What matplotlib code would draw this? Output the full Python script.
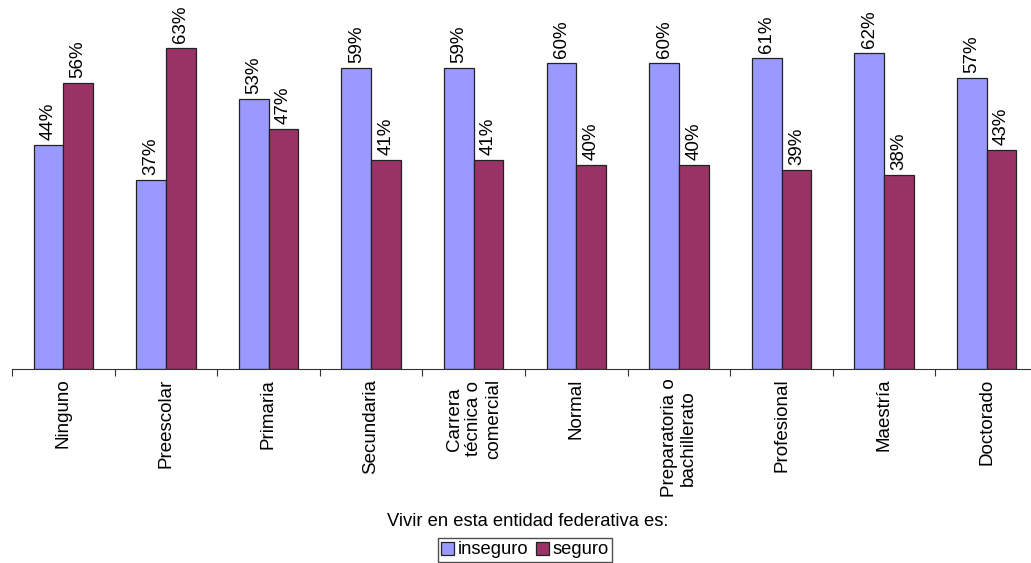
import matplotlib
matplotlib.use("Agg")
import matplotlib.pyplot as plt
import numpy as np
from matplotlib.patches import Patch

categories = ["Ninguno", "Preescolar", "Primaria", "Secundaria",
              "Carrera\ntécnica o\ncomercial", "Normal",
              "Preparatoria o\nbachillerato", "Profesional", "Maestría", "Doctorado"]
inseguro = [44, 37, 53, 59, 59, 60, 60, 61, 62, 57]
seguro = [56, 63, 47, 41, 41, 40, 40, 39, 38, 43]
series_names = ["inseguro", "seguro"]

plt.rcParams['font.family'] = ['Liberation Sans', 'DejaVu Sans']

W, H = 1031, 563
fig = plt.figure(figsize=(W/100, H/100), dpi=100)
left_px, right_px, base_px, top_px = 12, 1038, 369, 0
ax = fig.add_axes([left_px/W, 1 - base_px/H, (right_px-left_px)/W, (base_px-top_px)/H])

x = np.arange(len(categories))
bw = 0.29
c1, c2 = "#9999FF", "#993366"
fs = 13.5
b1 = ax.bar(x - bw/2, inseguro, bw, color=c1, edgecolor="#222222", linewidth=0.9)
b2 = ax.bar(x + bw/2, seguro, bw, color=c2, edgecolor="#222222", linewidth=0.9)
for bars, vals in ((b1, inseguro), (b2, seguro)):
    for r, v in zip(bars, vals):
        ax.text(r.get_x() + r.get_width()/2, v + 1.0, f"{v}%", rotation=90,
                ha="center", va="bottom", fontsize=fs)

ax.set_xlim(-0.5, len(categories) - 0.5)
ax.set_ylim(0, 369/5.1)
for s in ["left", "right", "top"]:
    ax.spines[s].set_visible(False)
ax.spines["bottom"].set_color("#333333")
ax.set_yticks([])
ax.set_xticks(np.arange(-0.5, len(categories), 1))
ax.set_xticklabels([])
ax.tick_params(axis="x", direction="out", length=5, color="#333333")
ax.set_xticks(x, minor=True)
ax.set_xticklabels(categories, minor=True, rotation=90, fontsize=fs,
                   va="top", ha="center", linespacing=1.2)
ax.tick_params(axis="x", which="minor", length=0, pad=7)

fig.text(528/W, 1 - 521/H, "Vivir en esta entidad federativa es:", ha="center",
         va="center", fontsize=13.2)
handles = [Patch(facecolor=c1, edgecolor="#222222", linewidth=0.9),
           Patch(facecolor=c2, edgecolor="#222222", linewidth=0.9)]
fig.legend(handles, series_names, loc="center", bbox_to_anchor=(525/W, 1 - 550/H),
           ncol=2, fontsize=13.2, frameon=True, fancybox=False, edgecolor="#222222",
           handlelength=0.7, handleheight=0.7, handletextpad=0.2, columnspacing=0.4,
           borderpad=0.2, borderaxespad=0)

fig.savefig("out.png", dpi=100)
